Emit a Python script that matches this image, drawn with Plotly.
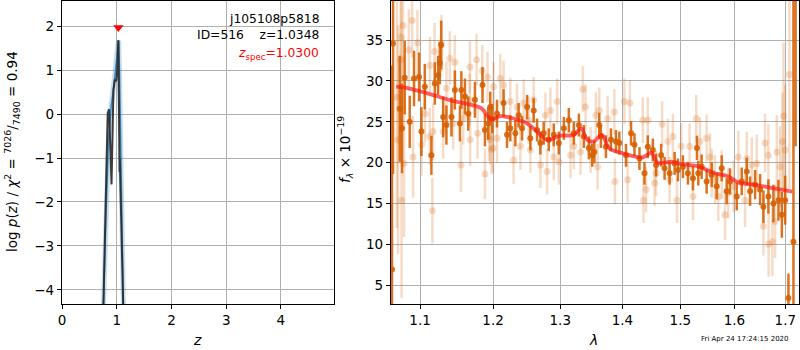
import plotly.graph_objects as go

# ---------------- redshift probability panel ----------------
z_fit = [0.745, 0.755, 0.80, 0.85, 0.90, 0.94, 0.97, 1.00, 1.02, 1.035, 1.05, 1.07, 1.09, 1.105, 1.12, 1.13]
logp_fit = [-4.9, -4.4, -2.45, -0.6, 0.2, 0.55, 0.95, 1.35, 1.6, 1.67, 1.0, -0.6, -2.1, -3.2, -4.35, -5.0]

z_grid = [0.745, 0.755, 0.80, 0.835, 0.86, 0.905, 0.94, 0.965, 0.99, 1.01, 1.03, 1.04, 1.05, 1.052, 1.056, 1.08, 1.12, 1.13]
logp_grid = [-5.0, -4.4, -2.4, 0.02, 0.11, -1.6, 0.55, 0.78, 0.75, 1.0, 1.68, 0.3, -1.2, -1.32, -1.0, -2.3, -4.4, -5.0]

z_spec = 1.0300
z_best = 1.0348
spec_marker_y = 1.97

# ---------------- spectrum panel ----------------
# first grism orientation (opaque points)
wave_a = [1.0638, 1.0651, 1.0736, 1.0766, 1.0800, 1.0865, 1.0921, 1.0987, 1.1017, 1.1062,
          1.1149, 1.1195, 1.1239, 1.1262, 1.1280, 1.1307, 1.1351, 1.1419, 1.1466, 1.1535,
          1.1555, 1.1604, 1.1650, 1.1743, 1.1850, 1.1884, 1.1931, 1.1960, 1.1988, 1.2056,
          1.2151, 1.2201, 1.2249, 1.2323, 1.2371, 1.2422, 1.2496, 1.2545, 1.2595, 1.2646,
          1.2696, 1.2746, 1.2823, 1.2900, 1.2978, 1.3056, 1.3134, 1.3213, 1.3292, 1.3371,
          1.3451, 1.3506, 1.3540, 1.3619, 1.3645, 1.3727, 1.3810, 1.3893, 1.3949, 1.4060,
          1.4145, 1.4203, 1.4288, 1.4373, 1.4430, 1.4517, 1.4574, 1.4662, 1.4722, 1.4810,
          1.4899, 1.4958, 1.5047, 1.5137, 1.5228, 1.5301, 1.5325, 1.5387, 1.5479, 1.5572,
          1.5665, 1.5759, 1.5853, 1.5916, 1.6044, 1.6140, 1.6237, 1.6301, 1.6399, 1.6497,
          1.6562, 1.6661, 1.6761, 1.6862, 1.6930, 1.6997, 1.7064, 1.7166, 1.7210]
flux_a = [6.9, 34.6, 26.6, 24.2, 30.4, 25.0, 30.3, 30.5, 23.8, 29.3,
          20.9, 29.7, 30.7, 32.2, 34.4, 25.6, 24.6, 25.6, 28.9, 24.8,
          28.9, 28.1, 26.0, 27.7, 29.5, 24.0, 24.8, 26.8, 25.4, 26.0,
          27.3, 23.4, 24.2, 23.6, 25.8, 24.2, 26.8, 23.0, 26.4, 24.0,
          22.4, 23.6, 22.8, 23.4, 22.4, 24.2, 25.2, 23.6, 24.6, 23.2,
          21.8, 20.9, 21.3, 24.6, 23.2, 21.95, 22.8, 22.6, 22.4, 20.9,
          23.6, 22.2, 20.5, 18.7, 21.95, 21.55, 19.7, 20.9, 19.3, 18.7,
          19.9, 19.1, 19.5, 18.7, 18.1, 21.8, 18.7, 19.5, 17.7, 18.5,
          17.1, 19.3, 16.5, 17.7, 15.85, 17.7, 18.9, 16.5, 17.3, 16.7,
          14.6, 15.85, 15.0, 15.4, 13.6, 15.4, 3.4, 10.3, 41.0]
err_a = [25.0, 16.0, 6.5, 5.5, 4.5, 3.2, 3.4, 3.0, 3.0, 2.8,
         2.4, 2.6, 2.4, 2.6, 3.0, 2.5, 2.4, 2.4, 2.4, 2.2,
         2.3, 2.2, 2.1, 2.2, 2.2, 2.0, 2.0, 1.9, 1.8, 1.7,
         1.7, 1.6, 1.6, 1.6, 1.5, 1.5, 1.5, 1.5, 1.5, 1.4,
         1.4, 1.4, 1.4, 1.4, 1.4, 1.4, 1.5, 1.4, 1.4, 1.4,
         1.4, 1.4, 1.4, 1.5, 1.4, 1.4, 1.4, 1.4, 1.4, 1.4,
         1.5, 1.4, 1.4, 1.4, 1.4, 1.4, 1.4, 1.4, 1.4, 1.4,
         1.4, 1.4, 1.4, 1.4, 1.5, 1.5, 1.5, 1.5, 1.5, 1.5,
         1.6, 1.6, 1.6, 1.6, 1.7, 1.7, 1.7, 1.8, 1.8, 1.9,
         2.0, 2.1, 2.3, 2.5, 2.8, 3.0, 3.0, 30.0, 19.0]

# second grism orientation (faint points)
wave_b = [1.0700, 1.0715, 1.0749, 1.0757, 1.0760, 1.0779, 1.0792, 1.0853, 1.0896, 1.0909,
          1.0965, 1.1020, 1.1065, 1.1127, 1.1130, 1.1163, 1.1172, 1.1192, 1.1284, 1.1307,
          1.1351, 1.1397, 1.1443, 1.1466, 1.1549, 1.1580, 1.1670, 1.1673, 1.1676, 1.1766,
          1.1780, 1.1846, 1.1884, 1.1921, 1.1941, 1.1959, 1.1978, 1.1998, 1.2006, 1.2056,
          1.2104, 1.2151, 1.2249, 1.2297, 1.2347, 1.2397, 1.2445, 1.2520, 1.2545, 1.2595,
          1.2696, 1.2772, 1.2798, 1.2849, 1.2900, 1.2953, 1.2978, 1.3161, 1.3213, 1.3319,
          1.3355, 1.3398, 1.3479, 1.3564, 1.3592, 1.3619, 1.3755, 1.3866, 1.3876, 1.4033,
          1.4087, 1.4125, 1.4344, 1.4356, 1.4401, 1.4430, 1.4546, 1.4574, 1.4679, 1.4780,
          1.4810, 1.4868, 1.4940, 1.5017, 1.5168, 1.5228, 1.5288, 1.5356, 1.5479, 1.5540,
          1.5572, 1.5633, 1.5695, 1.5759, 1.5821, 1.5884, 1.5985, 1.6075, 1.6204, 1.6237,
          1.6334, 1.6432, 1.6562, 1.6595, 1.6661, 1.6665, 1.6741, 1.6795, 1.6829, 1.6895,
          1.6942, 1.6963, 1.6997, 1.7085]
flux_b = [28.0, 22.8, 32.6, 35.4, 15.4, 36.8, 19.9, 33.8, 37.4, 20.7,
          34.7, 22.2, 26.0, 23.2, 31.9, 14.1, 23.8, 33.6, 34.6, 23.8,
          29.1, 32.8, 24.8, 32.3, 19.7, 25.4, 27.7, 31.7, 22.8, 32.6,
          23.6, 31.3, 18.6, 30.5, 23.2, 22.8, 21.6, 21.8, 29.3, 23.0,
          30.3, 29.5, 27.5, 20.3, 26.8, 22.0, 27.3, 25.2, 21.55, 27.7,
          19.7, 25.8, 18.9, 26.4, 20.7, 27.5, 20.1, 20.9, 22.0, 21.3,
          29.0, 26.8, 21.55, 25.8, 19.5, 26.4, 25.4, 26.2, 17.7, 27.5,
          17.9, 27.3, 25.2, 15.4, 16.7, 25.2, 17.5, 18.7, 24.7, 22.6,
          17.9, 23.2, 15.4, 22.0, 22.0, 15.85, 25.4, 22.6, 23.0, 20.7,
          18.7, 17.9, 15.85, 18.5, 13.6, 16.3, 17.1, 20.7, 15.4, 20.5,
          19.7, 19.9, 12.2, 22.4, 20.9, 10.0, 10.3, 12.8, 21.3, 19.5,
          22.6, 25.7, 21.55, 30.8]
err_b = [16.0, 14.0, 9.0, 8.0, 12.0, 7.0, 9.0, 5.0, 4.5, 5.0,
         4.0, 3.8, 3.5, 3.5, 3.5, 4.0, 3.5, 3.5, 3.5, 3.3,
         3.3, 3.3, 3.2, 3.3, 3.3, 3.2, 3.2, 3.2, 3.2, 3.2,
         3.1, 3.1, 3.1, 3.1, 3.0, 3.0, 3.0, 3.0, 3.0, 3.0,
         3.0, 3.0, 2.9, 2.9, 2.9, 2.9, 2.9, 2.9, 2.8, 2.8,
         2.8, 2.8, 2.8, 2.8, 2.8, 2.8, 2.8, 2.8, 2.8, 2.8,
         2.8, 2.8, 2.8, 2.8, 2.8, 2.8, 2.8, 2.8, 2.8, 2.8,
         2.8, 2.8, 2.8, 2.8, 2.8, 2.8, 2.8, 2.8, 2.8, 2.8,
         2.8, 2.8, 2.8, 2.8, 2.8, 2.9, 2.9, 2.9, 2.9, 2.9,
         3.0, 3.0, 3.0, 3.0, 3.1, 3.1, 3.2, 3.2, 3.3, 3.3,
         3.4, 3.5, 3.6, 3.6, 3.8, 4.0, 4.2, 4.5, 4.5, 5.0,
         6.0, 9.0, 8.0, 14.0]

# best-fit model spectrum
wave_model = [1.0692, 1.0850, 1.1017, 1.1239, 1.1466, 1.1705, 1.1835, 1.1931, 1.1988, 1.2104,
              1.2297, 1.2496, 1.2646, 1.2798, 1.3004, 1.3213, 1.3330, 1.3423, 1.3530, 1.3661,
              1.3782, 1.4006, 1.4344, 1.4488, 1.4600, 1.4868, 1.5017, 1.5288, 1.5633, 1.5884,
              1.6075, 1.6269, 1.6595, 1.6862, 1.7139]
flux_model = [29.3, 29.1, 28.7, 28.1, 27.5, 27.05, 26.65, 25.6, 25.3, 25.7,
              25.4, 24.8, 23.8, 22.8, 23.3, 23.4, 24.2, 22.8, 22.6, 23.4,
              21.75, 21.15, 20.65, 21.2, 20.0, 20.1, 19.8, 19.6, 18.7, 18.3,
              17.55, 17.4, 17.05, 16.75, 16.45]

# tick labels
z_ticks = [0, 1, 2, 3, 4]
logp_ticks = [-4, -3, -2, -1, 0, 1, 2]
wave_ticks = [1.1, 1.2, 1.3, 1.4, 1.5, 1.6, 1.7]
wave_tick_text = ["1.1", "1.2", "1.3", "1.4", "1.5", "1.6", "1.7"]
flux_ticks = [5, 10, 15, 20, 25, 30, 35]

field_name = "j105108p5818"
object_id = 516
timestamp = "Fri Apr 24 17:24:15 2020"

W, H = 800, 350
FONT = "DejaVu Sans"
ORANGE = "rgba(214,94,0,0.88)"
ORANGE_FAINT = "rgba(214,94,0,0.22)"

fig = go.Figure()

# p(z) curves
fig.add_trace(go.Scatter(x=z_fit, y=logp_fit, mode="lines", xaxis="x", yaxis="y",
                         line=dict(color="rgba(31,119,180,0.25)", width=5), hoverinfo="skip"))
fig.add_trace(go.Scatter(x=z_fit, y=logp_fit, mode="lines", xaxis="x", yaxis="y",
                         line=dict(color="rgba(31,119,180,0.85)", width=1.5), hoverinfo="skip"))
fig.add_trace(go.Scatter(x=z_grid, y=logp_grid, mode="lines", xaxis="x", yaxis="y",
                         line=dict(color="rgba(40,40,40,0.9)", width=2)))
fig.add_trace(go.Scatter(x=[z_spec], y=[spec_marker_y], mode="markers", xaxis="x", yaxis="y",
                         marker=dict(symbol="triangle-down", color="red", size=9,
                                     line=dict(width=0))))

# spectrum
fig.add_trace(go.Scatter(x=wave_b, y=flux_b, mode="markers", xaxis="x2", yaxis="y2",
                         marker=dict(color=ORANGE_FAINT, size=7, line=dict(width=0)),
                         error_y=dict(type="data", array=err_b, color=ORANGE_FAINT,
                                      thickness=2.5, width=0)))
fig.add_trace(go.Scatter(x=wave_a, y=flux_a, mode="markers", xaxis="x2", yaxis="y2",
                         marker=dict(color=ORANGE, size=6, line=dict(width=0)),
                         error_y=dict(type="data", array=err_a, color=ORANGE,
                                      thickness=2.5, width=0)))
fig.add_trace(go.Scatter(x=wave_model, y=flux_model, mode="lines", xaxis="x2", yaxis="y2",
                         line=dict(color="rgba(255,20,20,0.68)", width=3.8, shape="spline")))

ydom = [1 - 304 / H, 1 - 1 / H]
axis_common = dict(showline=True, mirror=True, linecolor="black", linewidth=1.2,
                   ticks="outside", ticklen=4, tickwidth=1.2, tickcolor="black",
                   showgrid=True, gridcolor="#b0b0b0", gridwidth=1, zeroline=False,
                   automargin=False,
                   tickfont=dict(family=FONT, size=13.5, color="black"))

fig.update_layout(
    width=W, height=H,
    margin=dict(l=0, r=0, t=0, b=0, pad=0),
    paper_bgcolor="white", plot_bgcolor="white",
    showlegend=False,
    font=dict(family=FONT, color="black"),
    xaxis=dict(domain=[62 / W, 334 / W], range=[0, 4.97], tickvals=z_ticks, anchor="y",
               **axis_common),
    yaxis=dict(domain=ydom, range=[-4.32, 2.57], tickvals=logp_ticks, anchor="x",
               **axis_common),
    xaxis2=dict(domain=[391 / W, 799 / W], type="log", range=[0.02634, 0.23754],
                tickvals=wave_ticks, ticktext=wave_tick_text, anchor="y2", **axis_common),
    yaxis2=dict(domain=ydom, range=[2.68, 39.8], tickvals=flux_ticks, anchor="x2",
                **axis_common),
)

ann = []
def label(text, x, y, size, color="black", xanchor="center", angle=0):
    ann.append(dict(text=text, x=x / W, y=1 - y / H, xref="paper", yref="paper",
                    showarrow=False, xanchor=xanchor, yanchor="middle", textangle=angle,
                    font=dict(family=FONT, size=size, color=color)))

label(field_name, 321, 19, 12.3, xanchor="right")
label(f"ID={object_id}    z={z_best:.4f}", 321, 35, 12.3, xanchor="right")
label(f"<i>z</i><sub>spec</sub>={z_spec:.4f}", 321, 54, 12.3, color="red", xanchor="right")

label("<i>z</i>", 197, 340, 14)
label("log <i>p</i>(<i>z</i>) / <i>χ</i><sup>2</sup> = <sup>7026</sup>/<sub>7490</sub> = 0.94",
      12, 152, 13.5, angle=-90)
label("<i>λ</i>", 593, 340, 14)
label("<i>f</i><sub><i>λ</i></sub> × 10<sup>−19</sup>", 345, 150, 13.5, angle=-90)
label(timestamp, 745, 339, 7)

fig.update_layout(annotations=ann)
fig.write_html("out.html")
